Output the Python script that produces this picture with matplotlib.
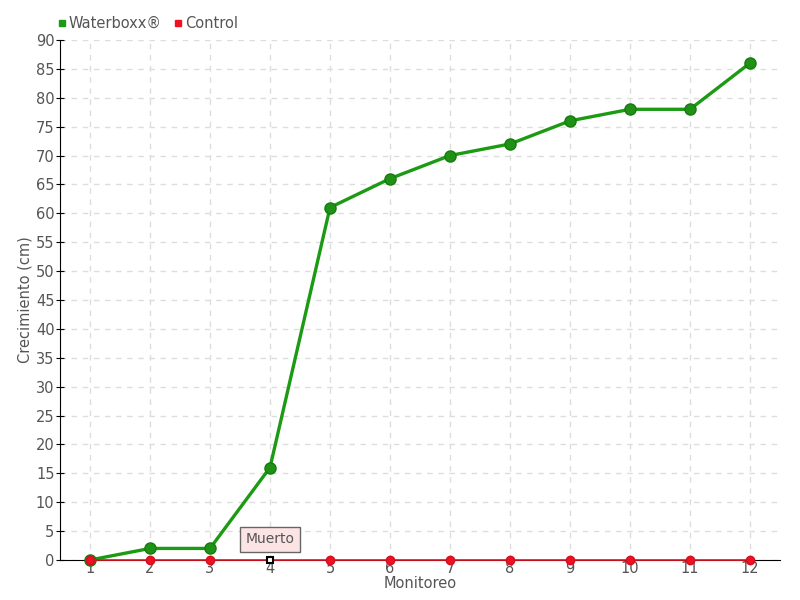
import matplotlib.pyplot as plt
from matplotlib.lines import Line2D

# Data
monitoreo = [1, 2, 3, 4, 5, 6, 7, 8, 9, 10, 11, 12]
waterboxx = [0, 2, 2, 16, 61, 66, 70, 72, 76, 78, 78, 86]
control = [0, 0, 0, 0, 0, 0, 0, 0, 0, 0, 0, 0]
muerto_idx = 3

txt = '#555555'
green = '#1d9a14'
red = '#ee1122'

fig = plt.figure(figsize=(8, 6), dpi=100)
ax = fig.add_axes([0.075, 0.0667, 0.9, 0.8667])

ax.plot(monitoreo, control, color=red, lw=1.2, zorder=4, clip_on=False)
ctrl_x = [m for i, m in enumerate(monitoreo) if i != muerto_idx]
ctrl_y = [c for i, c in enumerate(control) if i != muerto_idx]
ax.plot(ctrl_x, ctrl_y, 'o', color=red, ms=6, mec='#d01020', zorder=5, clip_on=False)
ax.plot(monitoreo[muerto_idx], control[muerto_idx], 's', color='white', mec='black',
        mew=1.5, ms=5, zorder=6, clip_on=False)

ax.plot(monitoreo, waterboxx, color=green, lw=2.4, marker='o', ms=8,
        mfc='#1f9216', mec='#177a10', zorder=3, clip_on=False)

ax.annotate('Muerto', xy=(monitoreo[muerto_idx], control[muerto_idx]),
            xytext=(0, 15), textcoords='offset points', ha='center', va='center',
            fontsize=10, color=txt,
            bbox=dict(boxstyle='square,pad=0.4', fc='#fde4e4', ec='#666666', lw=1),
            zorder=7)

ax.set_xlim(0.5, 12.5)
ax.set_ylim(0, 90)
ax.set_xticks(monitoreo)
ax.set_yticks(range(0, 91, 5))
ax.grid(True, color='#dddddd', ls=(0, (4, 4)), lw=1)
ax.set_axisbelow(True)
for s in ['top', 'right']:
    ax.spines[s].set_visible(False)
ax.spines['left'].set_color('black')
ax.spines['bottom'].set_color('black')
ax.tick_params(axis='y', direction='inout', length=6, colors=txt, labelsize=10.5, pad=1)
ax.tick_params(axis='x', length=0, colors=txt, labelsize=10.5, pad=1)
ax.tick_params(axis='y', color='black')

ax.set_xlabel('Monitoreo', color=txt, fontsize=10.5, labelpad=0)
ax.set_ylabel('Crecimiento (cm)', color=txt, fontsize=10.5, labelpad=2)

handles = [Line2D([], [], ls='none', marker='s', color=green, ms=5),
           Line2D([], [], ls='none', marker='s', color=red, ms=5)]
fig.legend(handles, ['Waterboxx®', 'Control'], loc='upper left',
           bbox_to_anchor=(0.055, 0.995), ncol=2, frameon=False, fontsize=10.5,
           handlelength=0.6, handletextpad=0.2, columnspacing=0.8, labelcolor=txt)

fig.savefig('out.png')
